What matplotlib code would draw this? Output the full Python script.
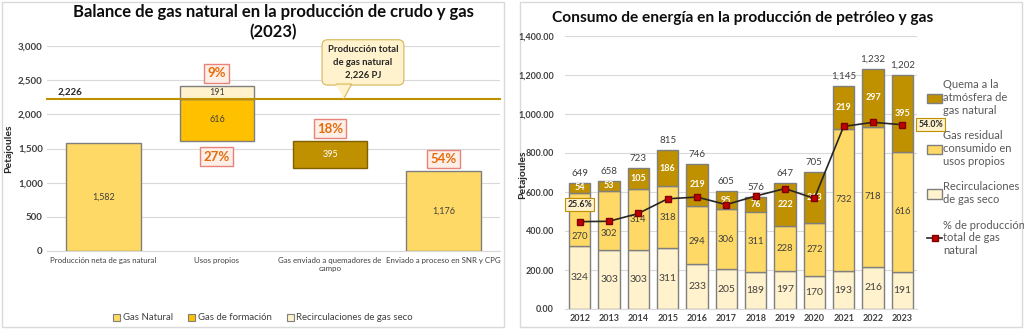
import numpy as np
import matplotlib.pyplot as plt
from matplotlib.patches import Rectangle, Polygon

plt.rcParams['font.family'] = ['Lato', 'DejaVu Sans']

# ---- datos panel izquierdo
categorias = ["Producción neta de gas natural", "Usos propios",
              "Gas enviado a quemadores de\ncampo", "Enviado a proceso en SNR y CPG"]
prod_neta = 1582
usos_formacion = 616
usos_recirc = 191
quemadores = 395
proceso = 1176
prod_total = 2226
pct_izq = ["9%", "27%", "18%", "54%"]

# ---- datos panel derecho
anios = ["2012", "2013", "2014", "2015", "2016", "2017", "2018", "2019", "2020", "2021", "2022", "2023"]
recirc = [324, 303, 303, 311, 233, 205, 189, 197, 170, 193, 216, 191]
residual = [270, 302, 314, 318, 294, 306, 311, 228, 272, 732, 718, 616]
quema = [54, 53, 105, 186, 219, 95, 76, 222, 263, 219, 297, 395]
totales = [649, 658, 723, 815, 746, 605, 576, 647, 705, 1145, 1232, 1202]
pct_prod = [25.6, 25.7, 28.0, 32.3, 32.8, 30.6, 33.1, 35.3, 32.4, 53.5, 54.7, 54.0]

c_gas = '#FFD966'
c_form = '#FFC000'
c_quem = '#BF9000'
c_rec = '#FFF2CC'
txt = '#404040'

fig = plt.figure(figsize=(10.24, 3.30), dpi=100)

# marcos de los paneles
for x0, w in [(2, 502), (520, 502)]:
    fig.patches.append(Rectangle((x0 / 1024, 3 / 330), w / 1024, 325 / 330, transform=fig.transFigure,
                                 fc='white', ec='#D9D9D9', lw=1, zorder=-1))

# ================= panel izquierdo
ax = fig.add_axes([47 / 1024, 79 / 330, 453 / 1024, 205 / 330])
x = np.arange(len(categorias))
w = 0.66
ec = '#7F7F7F'
ax.bar(x[0], prod_neta, w, color=c_gas, ec=ec, lw=1, zorder=3)
base_usos = prod_total - usos_formacion
ax.bar(x[1], usos_formacion, w, bottom=base_usos, color=c_form, ec=ec, lw=1, zorder=3)
ax.bar(x[1], usos_recirc, w, bottom=prod_total, color=c_rec, ec=ec, lw=1, zorder=3)
ax.bar(x[2], quemadores, w, bottom=base_usos - quemadores, color=c_quem, ec='#7F6000', lw=1, zorder=3)
ax.bar(x[3], proceso, w, color=c_gas, ec=ec, lw=1, zorder=3)

fs = 6.5
ax.text(x[0], prod_neta / 2, f"{prod_neta:,}", ha='center', va='center', fontsize=fs, color=txt, zorder=4)
ax.text(x[1], base_usos + usos_formacion / 2, f"{usos_formacion:,}", ha='center', va='center', fontsize=fs, color=txt, zorder=4)
ax.text(x[1], prod_total + usos_recirc / 2, f"{usos_recirc:,}", ha='center', va='center', fontsize=fs, color=txt, zorder=4)
ax.text(x[2], base_usos - quemadores / 2, f"{quemadores:,}", ha='center', va='center', fontsize=fs, color='white', zorder=4)
ax.text(x[3], proceso / 2, f"{proceso:,}", ha='center', va='center', fontsize=fs, color=txt, zorder=4)

ax.axhline(prod_total, color=c_quem, lw=1.5, zorder=5, clip_on=False)
ax.text(-0.3, prod_total + 35, f"{prod_total:,}", ha='center', va='bottom', fontsize=7, color='#262626', fontweight='bold')

pbox = dict(boxstyle='square,pad=0.25', fc='#FDEFE8', ec='#E8837A', lw=1)
pct_pos = [(x[1], 2600), (x[1], 1380), (x[2], 1790), (x[3], 1345)]
for (px, py), p in zip(pct_pos, pct_izq):
    ax.text(px, py, p, ha='center', va='center', fontsize=9.5, color='#E46C0A', fontweight='bold', bbox=pbox, zorder=6)

# globo de texto con su punta hacia la línea de producción total
globo = ax.text(2.29, 2760, f"Producción total\nde gas natural\n{prod_total:,} PJ",
                ha='center', va='center', fontsize=6.8, fontweight='bold', color='#262626', linespacing=1.5,
                bbox=dict(boxstyle='round,pad=0.6', fc='#FFF2CC', ec='#D6B656', lw=0.8), zorder=7)

ax.set_xlim(-0.5, 3.5)
ax.set_ylim(0, 3000)
ax.set_yticks(np.arange(0, 3001, 500))
ax.set_yticklabels([f"{v:,}" for v in range(0, 3001, 500)])
ax.set_xticks(x)
ax.set_xticklabels(categorias, fontsize=5.7, color=txt)
ax.tick_params(axis='y', labelsize=7, labelcolor=txt, length=0, pad=3)
ax.tick_params(axis='x', length=0, pad=4)
for t in ax.get_yticklabels():
    t.set_fontweight('bold')
ax.grid(axis='y', color='#D9D9D9', lw=0.8, zorder=0)
for s in ['top', 'right', 'left']:
    ax.spines[s].set_visible(False)
ax.spines['bottom'].set_color('#D9D9D9')
ax.set_ylabel("Petajoules", fontsize=7.5, fontweight='bold', color='#262626')
ax.yaxis.set_label_coords(-0.075, 0.5)
ax.set_title("Balance de gas natural en la producción de crudo y gas\n(2023)", fontsize=12,
             fontweight='bold', color='#0D0D0D', pad=6, linespacing=1.3)

fig.canvas.draw()
bb = globo.get_bbox_patch().get_window_extent().transformed(ax.transData.inverted())
punta_x = 2.12
base_y = bb.y0 + 15
pico = Polygon([(punta_x - 0.07, base_y), (punta_x + 0.07, base_y), (punta_x, prod_total)],
               closed=False, fc='#FFF2CC', ec='#D6B656', lw=0.8, zorder=8)
ax.add_patch(pico)

hand = [Rectangle((0, 0), 1, 1, fc=c, ec=ec, lw=0.8) for c in [c_gas, c_form, c_rec]]
fig.legend(hand, ["Gas Natural", "Gas de formación", "Recirculaciones de gas seco"],
           loc='center', bbox_to_anchor=(263 / 1024, 1 - 318 / 330), ncol=3, frameon=False,
           fontsize=6.9, handlelength=0.7, handleheight=0.7, handletextpad=0.3, columnspacing=1.6,
           labelcolor=txt)

# ================= panel derecho
bx = fig.add_axes([565 / 1024, 21 / 330, 352 / 1024, 273 / 330])
xi = np.arange(len(anios))
bw = 0.72
rec = np.array(recirc)
res = np.array(residual)
que = np.array(quema)
bx.bar(xi, rec, bw, color=c_rec, ec='#7F7F7F', lw=1, zorder=3, label="Recirculaciones\nde gas seco")
bx.bar(xi, res, bw, bottom=rec, color=c_gas, ec='#7F7F7F', lw=1, zorder=3, label="Gas residual\nconsumido en\nusos propios")
bx.bar(xi, que, bw, bottom=rec + res, color=c_quem, ec='#7F7F7F', lw=1, zorder=3, label="Quema a la\natmósfera de\ngas natural")

# etiquetas de 2012 y 2013 desplazadas hacia abajo para no chocar con la línea
desplaz = [-85, -65, 0, 0, -35, 0, 0, 0, 0, 0, 0, 0]
for i in xi:
    bx.text(i, rec[i] / 2, f"{rec[i]}", ha='center', va='center', fontsize=7.5, color=txt, zorder=4)
    bx.text(i, rec[i] + res[i] / 2 + desplaz[i], f"{res[i]}", ha='center', va='center', fontsize=6.8, color=txt, zorder=4)
    bx.text(i, rec[i] + res[i] + que[i] / 2, f"{que[i]}", ha='center', va='center', fontsize=6.5,
            color='white', fontweight='bold', zorder=4)
    bx.text(i, totales[i] + 25, f"{totales[i]:,}", ha='center', va='bottom', fontsize=7, color=txt, zorder=4)

bx.set_xlim(-0.5, 11.5)
bx.set_ylim(0, 1400)
bx.set_yticks(np.arange(0, 1401, 200))
bx.set_yticklabels([f"{v:,.2f}" for v in range(0, 1401, 200)])
bx.set_xticks(xi)
bx.set_xticklabels(anios)
bx.tick_params(axis='both', labelsize=6.5, labelcolor=txt, length=0)
bx.tick_params(axis='y', pad=8)
for t in bx.get_yticklabels() + bx.get_xticklabels():
    t.set_fontweight('bold')
bx.grid(axis='y', color='#D9D9D9', lw=0.8, zorder=0)
for s in ['top', 'right', 'left']:
    bx.spines[s].set_visible(False)
bx.spines['bottom'].set_color('#D9D9D9')
bx.set_ylabel("Petajoules", fontsize=7.5, fontweight='bold', color='#262626')
bx.yaxis.set_label_coords(-0.108, 0.49)
fig.text(743 / 1024, 1 - 18 / 330, "Consumo de energía en la producción de petróleo y gas", ha='center',
         va='center', fontsize=11.2, fontweight='bold', color='#0D0D0D')

cx = bx.twinx()
pct = np.array(pct_prod) / 100
cx.plot(xi, pct, color='#262626', lw=1.2, marker='s', ms=5, mfc='#C00000', mec='#7F0000', zorder=5,
        label="% de producción\ntotal de gas\nnatural")
cx.set_ylim(0, 0.8)
cx.axis('off')
lbox = dict(boxstyle='square,pad=0.25', fc='#FFF2CC', ec='#BF9000', lw=0.8)
cx.text(xi[0], pct[0] + 0.05, f"{pct_prod[0]:.1f}%", ha='center', va='center', fontsize=6.3,
        fontweight='bold', color='#262626', bbox=lbox, zorder=6)
cx.text(xi[-1] + 0.55, pct[-1], f"{pct_prod[-1]:.1f}%", ha='left', va='center', fontsize=6.3,
        fontweight='bold', color='#262626', bbox=lbox, zorder=6)

h1, l1 = bx.get_legend_handles_labels()
h2, l2 = cx.get_legend_handles_labels()
fig.legend(h1[::-1] + h2, l1[::-1] + l2, loc='upper left', bbox_to_anchor=(924 / 1024, 1 - 76 / 330),
           frameon=False, fontsize=8, labelcolor='#595959', handlelength=1.3, handleheight=0.9,
           handletextpad=0.15, labelspacing=1.3, borderaxespad=0, borderpad=0.3)

fig.savefig("out.png", dpi=100)
